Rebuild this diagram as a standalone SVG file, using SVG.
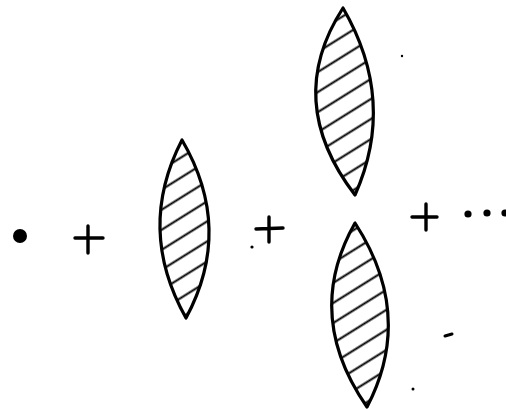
<svg xmlns="http://www.w3.org/2000/svg" width="506" height="409" viewBox="0 0 506 409">
  <style>
    .lens { fill: url(#hatch); stroke: #000; stroke-width: 3.2; stroke-linejoin: round; }
    .plus { fill: none; stroke: #000; stroke-width: 3.4; stroke-linecap: round; }
    .ink { fill: #000; }
  </style>
  <defs>
    <pattern id="hatch" patternUnits="userSpaceOnUse" width="40" height="17" patternTransform="rotate(-32)">
      <rect width="40" height="17" fill="#fff"/>
      <line x1="0" y1="8.5" x2="40" y2="8.5" stroke="#000" stroke-width="1.9"/>
    </pattern>
  </defs>
  <rect width="506" height="409" fill="#fff"/>
  <g id="dot">
    <circle class="ink" cx="20" cy="236" r="7"/>
  </g>
  <g id="plus1">
    <path class="plus" d="M75 238 L103 238 M88 226 L88 253"/>
  </g>
  <g id="lens1">
    <path class="lens" d="M182 140 Q136 229 186 318 Q234 229 182 140 Z"/>
  </g>
  <g id="plus2">
    <path class="plus" d="M256 229 L283 228 M269 217 L269 242"/>
    <circle class="ink" cx="252" cy="247" r="1.6"/>
  </g>
  <g id="lens2">
    <path class="lens" d="M343 8 Q283 101 355 195 Q397 101 343 8 Z"/>
  </g>
  <g id="lens3">
    <path class="lens" d="M355 223 Q303 315 367 407 Q415 315 355 223 Z"/>
  </g>
  <g id="plus3">
    <path class="plus" d="M412 217 L437 217 M426 204 L426 230"/>
  </g>
  <g id="ellipsis">
    <circle class="ink" cx="468" cy="214" r="3.6"/>
    <circle class="ink" cx="487" cy="213" r="3.6"/>
    <circle class="ink" cx="505" cy="213" r="3.6"/>
  </g>
  <g id="specks">
    <path d="M445 336 L452 334" stroke="#000" stroke-width="3" stroke-linecap="round"/>
    <circle class="ink" cx="402" cy="56" r="1.2"/>
    <circle class="ink" cx="413" cy="389" r="1.5"/>
  </g>
</svg>
